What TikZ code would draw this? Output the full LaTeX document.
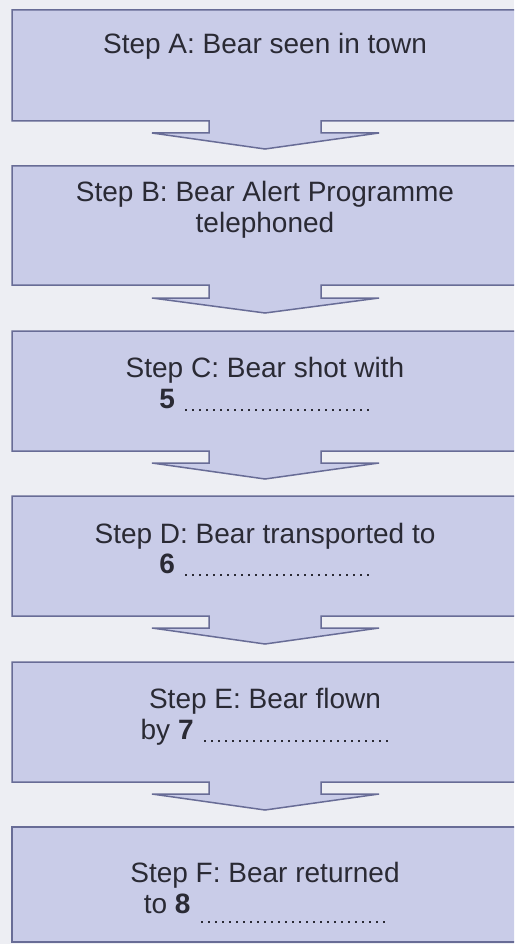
\documentclass[tikz,border=0pt]{standalone}
\usepackage{fontspec}
\setmainfont{Liberation Sans}
\definecolor{bgc}{RGB}{237,238,243}
\definecolor{boxc}{RGB}{201,204,232}
\definecolor{edgec}{RGB}{104,108,150}
\definecolor{txtc}{RGB}{42,42,52}
\newcommand\blankdots[2]{\raisebox{#1}{\leaders\hbox to 7pt{\hss\rule{2pt}{2pt}\hss}\hskip #2\relax}}
% top, bottom, stem bottom, arrow tip
\newcommand\flowbox[4]{%
  \draw[boxshape] (12,#1) -- (530,#1) -- (530,#2) -- (321,#2) -- (321,#3) -- (379,#3)
    -- (265,#4) -- (152,#3) -- (209,#3) -- (209,#2) -- (12,#2) -- cycle;}
\tikzset{
  boxshape/.style={fill=boxc, draw=edgec, line width=1.5pt, line join=miter},
  steptext/.style={anchor=base, inner sep=0pt, font=\fontsize{28}{31}\selectfont, text=txtc},
}
\begin{document}
\begin{tikzpicture}[x=1pt,y=-1pt]
\useasboundingbox (0,0) rectangle (514,944);
\fill[bgc] (0,0) rectangle (514,944);
\clip (0,0) rectangle (514,944);
\flowbox{10}{121}{133}{149}
\flowbox{166}{285}{298}{313}
\flowbox{331}{451}{463}{479}
\flowbox{496}{616}{628}{644}
\flowbox{662}{782}{794}{810}
\draw[boxshape] (12,827) rectangle (530,942);
\node[steptext] (a) at (265,54) {Step A: Bear seen in town};
\node[steptext] (b1) at (265,201) {Step B: Bear Alert Programme};
\node[steptext] (b2) at (265,232) {telephoned};
\node[steptext] (c1) at (265,377) {Step C: Bear shot with};
\node[steptext] (c2) at (266,408) {\textbf{5} \blankdots{-3pt}{190pt}};
\node[steptext] (d1) at (265,543) {Step D: Bear transported to};
\node[steptext] (d2) at (266,573) {\textbf{6} \blankdots{-3pt}{190pt}};
\node[steptext] (e1) at (265,708) {Step E: Bear flown};
\node[steptext] (e2) at (266,739) {by \textbf{7} \blankdots{-3pt}{190pt}};
\node[steptext] (f1) at (265,882) {Step F: Bear returned};
\node[steptext] (f2) at (266,913) {to \textbf{8} \blankdots{-10pt}{190pt}};
\end{tikzpicture}
\end{document}
